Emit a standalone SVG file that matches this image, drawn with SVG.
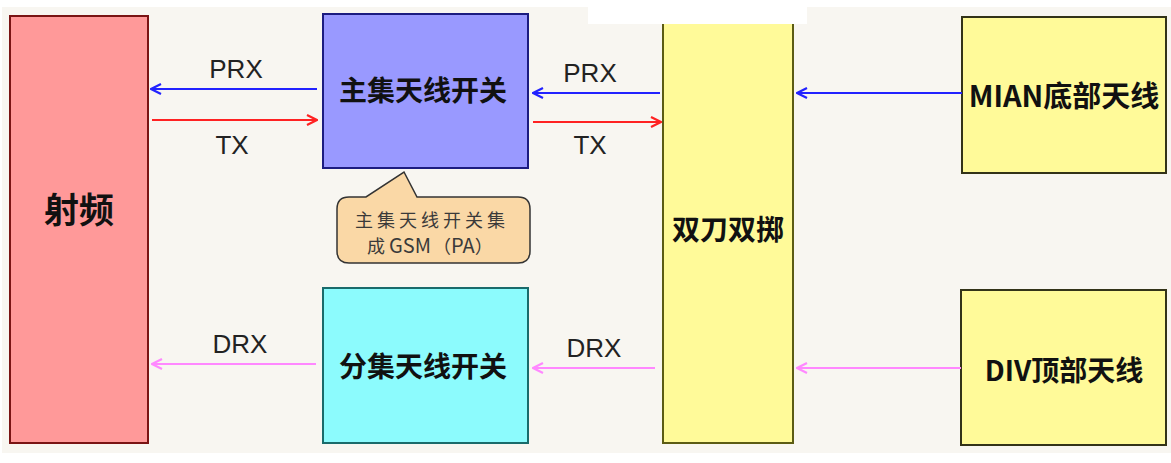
<svg xmlns="http://www.w3.org/2000/svg" width="1171" height="463" viewBox="0 0 1171 463">
<defs>
<style>
.cjk{font-family:"Noto Sans CJK SC","Noto Sans",sans-serif;font-weight:bold;fill:#111;text-anchor:middle}
.lbl{font-family:"Liberation Sans",Arial,sans-serif;font-size:26px;fill:#222;text-anchor:middle}
.call{font-family:"Noto Sans CJK SC","Noto Sans",sans-serif;font-size:18px;fill:#3a3a3a}
.sp{letter-spacing:4px}
.lat{font-size:20px;letter-spacing:0}
.ln{stroke-width:2;fill:none}
</style>
<marker id="ab" viewBox="0 0 12 12" refX="11" refY="6" markerWidth="12" markerHeight="12" markerUnits="userSpaceOnUse" orient="auto">
<path d="M1,1 L11,6 L1,11" fill="none" stroke="#2222ff" stroke-width="2.2"/>
</marker>
<marker id="ar" viewBox="0 0 12 12" refX="11" refY="6" markerWidth="12" markerHeight="12" markerUnits="userSpaceOnUse" orient="auto">
<path d="M1,1 L11,6 L1,11" fill="none" stroke="#ff2222" stroke-width="2.2"/>
</marker>
<marker id="ap" viewBox="0 0 12 12" refX="11" refY="6" markerWidth="12" markerHeight="12" markerUnits="userSpaceOnUse" orient="auto">
<path d="M1,1 L11,6 L1,11" fill="none" stroke="#ff88ff" stroke-width="2.2"/>
</marker>
</defs>
<rect x="0" y="0" width="1171" height="463" fill="#ffffff"/>
<rect x="2" y="7" width="1169" height="446" fill="#f8f6f1"/>

<g id="rf">
<rect x="10" y="16" width="138" height="427" fill="#ff9999" stroke="#7a1414" stroke-width="2"/>
<text class="cjk" x="79" y="223" font-size="35">射频</text>
</g>

<g id="main-switch">
<rect x="323" y="14" width="205" height="154" fill="#9999ff" stroke="#1c1c80" stroke-width="2"/>
<text class="cjk" x="423" y="101" font-size="28">主集天线开关</text>
</g>

<g id="callout">
<path d="M349,197 L366,197 L404,172 L417,197 L518,197 Q530,197 530,209 L530,251 Q530,263 518,263 L349,263 Q337,263 337,251 L337,209 Q337,197 349,197 Z" fill="#fad8a6" stroke="#333" stroke-width="1.5"/>
<text class="call sp" x="355" y="227">主集天线开关集</text>
<text class="call" x="367" y="253"><tspan class="sp">成</tspan><tspan class="lat">GSM</tspan><tspan dx="2">（</tspan><tspan class="lat">PA</tspan>）</text>
</g>

<g id="div-switch">
<rect x="323" y="288" width="205" height="155" fill="#8cfbfd" stroke="#1a6b6b" stroke-width="2"/>
<text class="cjk" x="423" y="377" font-size="28">分集天线开关</text>
</g>

<g id="dpdt">
<rect x="663" y="14" width="130" height="429" fill="#fffa99" stroke="#5c5c14" stroke-width="2"/>
<text class="cjk" x="728" y="240" font-size="28">双刀双掷</text>
</g>

<rect x="588" y="0" width="219" height="24" fill="#ffffff"/>

<g id="mian">
<rect x="962" y="17" width="204" height="156" fill="#fffa99" stroke="#333318" stroke-width="2"/>
<text class="cjk" x="1064" y="107" font-size="29">MIAN底部天线</text>
</g>

<g id="div">
<rect x="961" y="290" width="205" height="155" fill="#fffa99" stroke="#333318" stroke-width="2"/>
<text class="cjk" x="1064" y="381" font-size="28">DIV顶部天线</text>
</g>

<g id="connectors">
<line class="ln" x1="317" y1="89" x2="151" y2="89" stroke="#2222ff" marker-end="url(#ab)"/>
<line class="ln" x1="152" y1="120" x2="317" y2="120" stroke="#ff2222" marker-end="url(#ar)"/>
<line class="ln" x1="660" y1="93" x2="533" y2="93" stroke="#2222ff" marker-end="url(#ab)"/>
<line class="ln" x1="533" y1="122" x2="661" y2="122" stroke="#ff2222" marker-end="url(#ar)"/>
<line class="ln" x1="962" y1="93" x2="797" y2="93" stroke="#2222ff" marker-end="url(#ab)"/>
<line class="ln" x1="316" y1="364" x2="152" y2="364" stroke="#ff88ff" marker-end="url(#ap)"/>
<line class="ln" x1="655" y1="368" x2="533" y2="368" stroke="#ff88ff" marker-end="url(#ap)"/>
<line class="ln" x1="961" y1="368" x2="797" y2="368" stroke="#ff88ff" marker-end="url(#ap)"/>
<text class="lbl" x="236" y="78">PRX</text>
<text class="lbl" x="232" y="154">TX</text>
<text class="lbl" x="590" y="82">PRX</text>
<text class="lbl" x="590" y="154">TX</text>
<text class="lbl" x="240" y="353">DRX</text>
<text class="lbl" x="594" y="357">DRX</text>
</g>
</svg>
